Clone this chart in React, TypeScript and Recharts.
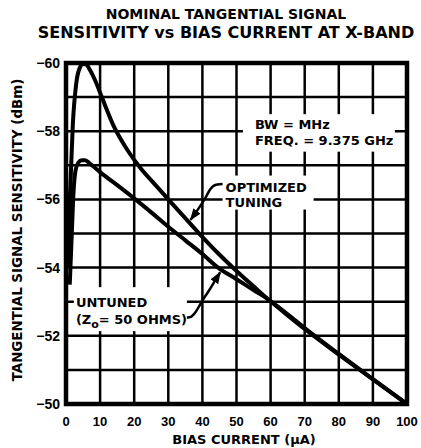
import React from 'react';
import {
  LineChart,
  Line,
  XAxis,
  YAxis,
  ReferenceArea,
  ReferenceDot,
} from 'recharts';

// ---------- data ----------
const xTicks = [0, 10, 20, 30, 40, 50, 60, 70, 80, 90, 100];
const yTicks = [-60, -59, -58, -57, -56, -55, -54, -53, -52, -51, -50];
const yLabeledTicks = [-60, -58, -56, -54, -52, -50];

const titleLines = ['NOMINAL TANGENTIAL SIGNAL', 'SENSITIVITY vs BIAS CURRENT AT X-BAND'];
const xAxisTitle = 'BIAS CURRENT (\u00b5A)';
const yAxisTitle = 'TANGENTIAL SIGNAL SENSITIVITY (dBm)';

// Optimized tuning curve (bias current uA, TSS dBm)
const optimizedCurrent = [0.5, 1.2, 2.0, 3.0, 4.0, 5.0, 6.0, 7.0, 8.5, 10.5, 14, 18, 22, 26, 30, 34.5, 38.6, 44.6, 50, 55, 59.3, 65, 70, 80, 90, 100];
const optimizedTss = [-54.0, -56.2, -58.2, -59.4, -59.85, -59.97, -59.95, -59.8, -59.5, -59.0, -58.15, -57.45, -56.9, -56.45, -56.0, -55.5, -55.05, -54.42, -53.9, -53.45, -53.07, -52.6, -52.2, -51.45, -50.72, -50.0];

// Untuned (Zo = 50 ohms) curve
const untunedCurrent = [1.1, 1.7, 2.2, 2.8, 3.6, 4.6, 5.6, 7, 8.5, 10, 15, 20, 25, 30, 35, 40, 44.6, 50, 55, 59.3, 65, 70, 80, 90, 100];
const untunedTss = [-53.5, -55.0, -56.2, -56.85, -57.08, -57.15, -57.15, -57.05, -56.93, -56.8, -56.42, -56.03, -55.62, -55.2, -54.8, -54.4, -54.0, -53.66, -53.34, -53.07, -52.63, -52.23, -51.47, -50.73, -50.0];

// Leader lines of the annotations
const optLeaderCurrent = [46.3, 44.0, 42.3, 40.8, 39.2, 37.6, 36.5];
const optLeaderTss = [-56.45, -56.43, -56.3, -56.03, -55.78, -55.55, -55.4];
const untLeaderCurrent = [34.8, 36.5, 37.9, 38.9, 40.1, 41.9, 43.8, 45.2];
const untLeaderTss = [-52.53, -52.55, -52.68, -52.84, -53.05, -53.32, -53.63, -53.86];

// annotation texts
const bwText = 'BW = MHz';
const freqText = 'FREQ. = 9.375 GHz';
const optText1 = 'OPTIMIZED';
const optText2 = 'TUNING';
const untText1 = 'UNTUNED';
const untText2a = '(Z';
const untText2sub = 'o';
const untText2b = '= 50 OHMS)';

const toPoints = (xs: number[], ys: number[]) => xs.map((x, i) => ({ x, y: ys[i] }));

const optimizedData = toPoints(optimizedCurrent, optimizedTss);
const untunedData = toPoints(untunedCurrent, untunedTss);
const optLeader = toPoints(optLeaderCurrent, optLeaderTss);
const untLeader = toPoints(untLeaderCurrent, untLeaderTss);

const xMin = xTicks[0];
const xMax = xTicks[xTicks.length - 1];
const yMin = yTicks[0];
const yMax = yTicks[yTicks.length - 1];
const verticalGrid = xTicks.map((v) => [{ x: v, y: yMin }, { x: v, y: yMax }]);
const horizontalGrid = yTicks.map((v) => [{ x: xMin, y: v }, { x: xMax, y: v }]);

// ---------- styles ----------
const TEXT_FONT = "'DejaVu Sans', sans-serif";
const NUM_FONT = "'Liberation Sans', Arial, sans-serif";
const GRID_COLOR = '#000';

type Box = { dx: number; dy: number; w: number; h: number };

const labelShape = (lines: React.ReactNode[], lineGap: number, box: Box) => (props: any) => {
  const { cx, cy } = props;
  return (
    <g>
      <rect x={cx + box.dx} y={cy + box.dy} width={box.w} height={box.h} fill="#fff" />
      {lines.map((ln, i) => (
        <text
          key={i}
          x={cx}
          y={cy + i * lineGap}
          fontFamily={TEXT_FONT}
          fontWeight="bold"
          fontSize={13}
          fill="#000"
          textAnchor="start"
        >
          {ln}
        </text>
      ))}
    </g>
  );
};

const yTickFmt = (v: number) =>
  yLabeledTicks.includes(v) ? `\u2212${Math.abs(v)}` : '';

export default function App() {
  return (
    <div style={{ position: 'absolute', left: 0, top: 0, width: 421, height: 448, background: '#fff' }}>
      <svg width={0} height={0} style={{ position: 'absolute' }}>
        <defs>
          <marker
            id="arrowhead"
            markerUnits="userSpaceOnUse"
            viewBox="0 0 12 9"
            markerWidth={12}
            markerHeight={9}
            refX={11}
            refY={4.5}
            orient="auto"
          >
            <path d="M0,0 L12,4.5 L0,9 Z" fill="#000" />
          </marker>
        </defs>
      </svg>
      <LineChart
        width={421}
        height={448}
        margin={{ top: 63, right: 14, bottom: 0, left: 0 }}
      >
        <XAxis
          type="number"
          dataKey="x"
          domain={[0, 100]}
          ticks={xTicks}
          interval={0}
          height={44}
          axisLine={false}
          tickLine={false}
          tickSize={10}
          tickMargin={3}
          tick={{ fontFamily: NUM_FONT, fontWeight: 'bold', fontSize: 13, fill: '#000' }}
        />
        <YAxis
          type="number"
          domain={[-60, -50]}
          reversed
          ticks={yTicks}
          interval={0}
          width={66}
          axisLine={false}
          tickLine={false}
          tickSize={4}
          tickMargin={2}
          tickFormatter={yTickFmt}
          tick={{ fontFamily: NUM_FONT, fontWeight: 'bold', fontSize: 14, fill: '#000' }}
        />
        {verticalGrid.map((d, i) => (
          <Line key={`gv${i}`} data={d} dataKey="y" type="linear" stroke={GRID_COLOR} strokeWidth={2.5} dot={false} activeDot={false} isAnimationActive={false} />
        ))}
        {horizontalGrid.map((d, i) => (
          <Line key={`gh${i}`} data={d} dataKey="y" type="linear" stroke={GRID_COLOR} strokeWidth={2.5} dot={false} activeDot={false} isAnimationActive={false} />
        ))}
        <Line data={optimizedData} dataKey="y" type="monotone" stroke="#000" strokeWidth={4} dot={false} activeDot={false} isAnimationActive={false} />
        <Line data={untunedData} dataKey="y" type="monotone" stroke="#000" strokeWidth={4} dot={false} activeDot={false} isAnimationActive={false} />
        <Line data={optLeader} dataKey="y" type="monotone" stroke="#000" strokeWidth={2.5} dot={false} activeDot={false} isAnimationActive={false} markerEnd="url(#arrowhead)" />
        <Line data={untLeader} dataKey="y" type="monotone" stroke="#000" strokeWidth={2.5} dot={false} activeDot={false} isAnimationActive={false} markerEnd="url(#arrowhead)" />
        <ReferenceArea x1={0} x2={100} y1={-60} y2={-50} fill="none" fillOpacity={0} stroke="#000" strokeWidth={4.5} />
        <ReferenceDot x={55.4} y={-58.06} r={0} zIndex={2000} shape={labelShape([bwText, freqText], 16, { dx: -12, dy: -15, w: 152, h: 37.5 })} />
        <ReferenceDot x={46.8} y={-56.23} r={0} zIndex={2000} shape={labelShape([optText1, optText2], 15, { dx: -3, dy: -16, w: 91, h: 34 })} />
        <ReferenceDot
          x={2.9}
          y={-52.84}
          r={0}
          zIndex={2000}
          shape={labelShape(
            [
              untText1,
              <>
                {untText2a}
                <tspan dy={4} fontSize={11}>{untText2sub}</tspan>
                <tspan dy={-4}>{untText2b}</tspan>
              </>,
            ],
            17,
            { dx: -2, dy: -20, w: 113, h: 44 }
          )}
        />
      </LineChart>
      <svg
        width={421}
        height={448}
        style={{ position: 'absolute', left: 0, top: 0, pointerEvents: 'none' }}
      >
        <g fontFamily={TEXT_FONT} fontWeight="bold" fill="#000">
          <text x={226} y={19} fontSize={14} textAnchor="middle">{titleLines[0]}</text>
          <text x={226} y={38} fontSize={16} textAnchor="middle">{titleLines[1]}</text>
          <text x={244} y={444} fontSize={13} textAnchor="middle">{xAxisTitle}</text>
          <text x={0} y={0} fontSize={13.4} textAnchor="middle" transform="translate(22,230) rotate(-90)">
            {yAxisTitle}
          </text>
        </g>
      </svg>
    </div>
  );
}
